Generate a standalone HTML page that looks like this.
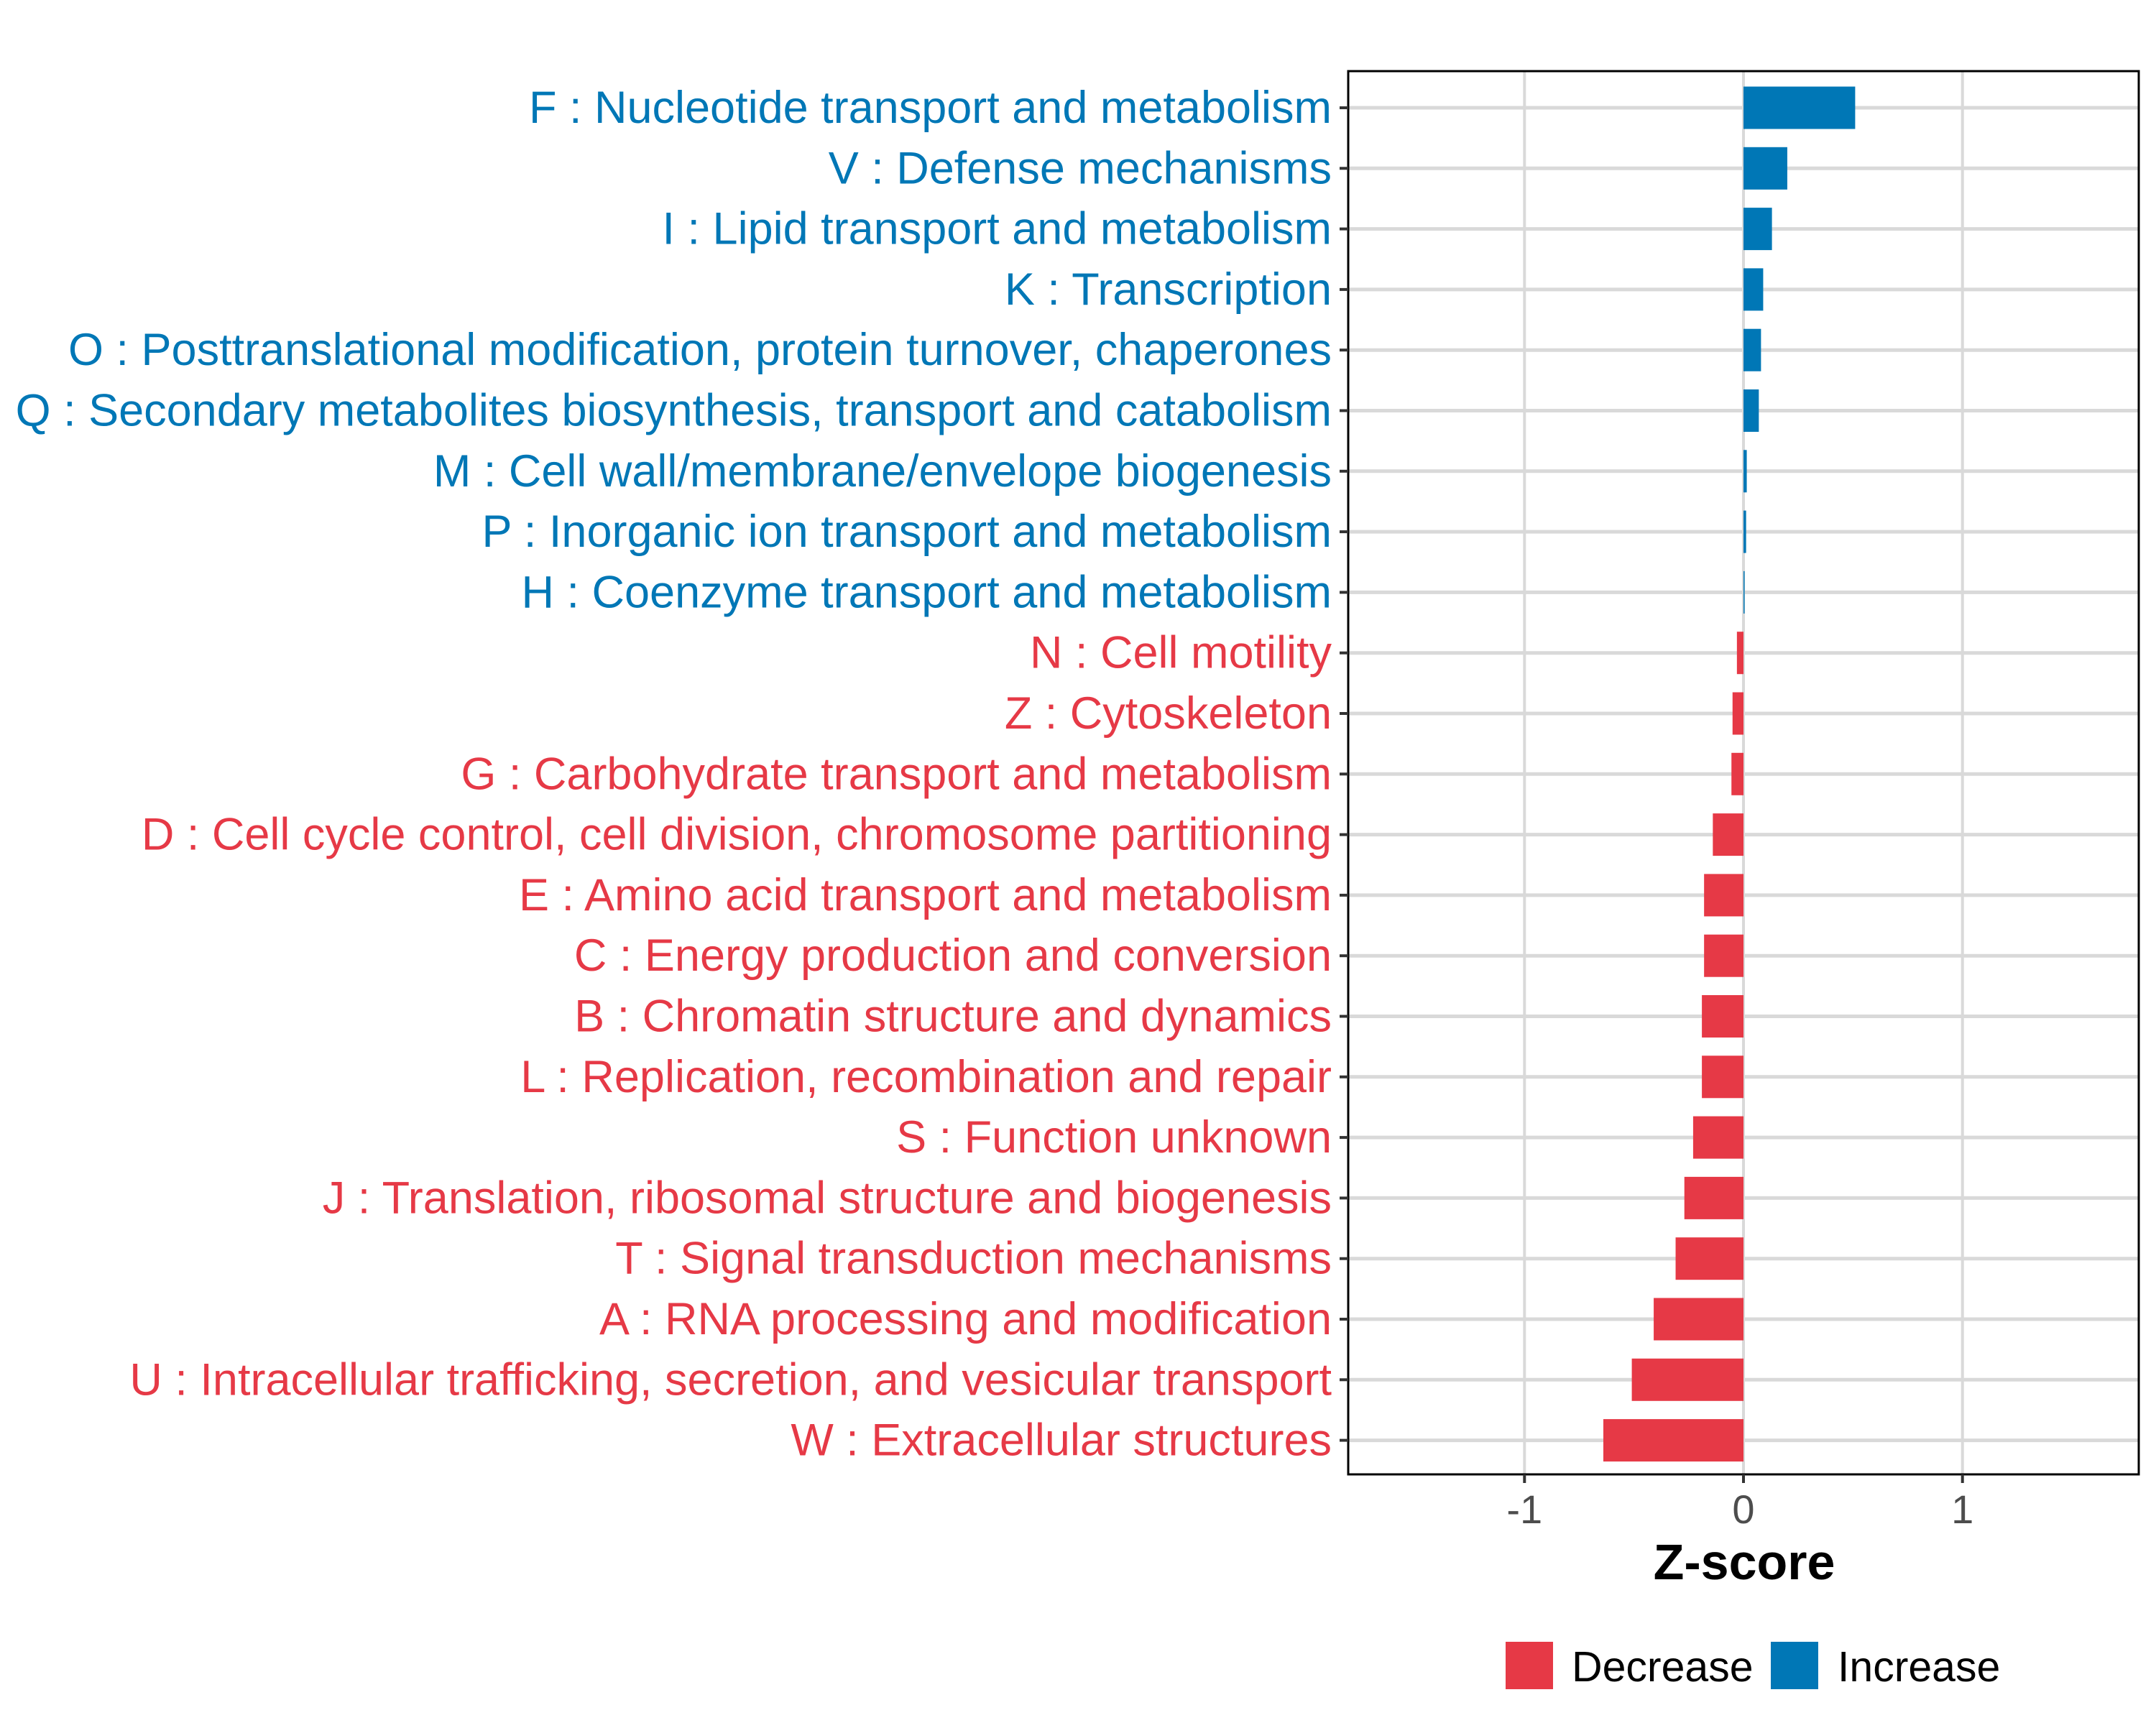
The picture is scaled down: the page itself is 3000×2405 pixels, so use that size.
<!DOCTYPE html>
<html><head><meta charset="utf-8"><style>
html,body{margin:0;padding:0;background:#fff;}
svg text{font-family:"Liberation Sans",Arial,sans-serif;}
</style></head><body>
<svg id="chart" width="3000" height="2400" viewBox="0 0 3000 2400" xmlns="http://www.w3.org/2000/svg">
<rect width="3000" height="2400" fill="#fff"/>
<g id="grid"></g>
<g id="bars"></g>
<rect x="1876" y="99" width="1100" height="1953" fill="none" stroke="#000" stroke-width="3"/>
<g id="ylabels"></g>
<g id="xticks"></g>
<text x="2427" y="2198" font-size="70" font-weight="bold" text-anchor="middle" fill="#000">Z-score</text>
<g>
<rect x="2095" y="2285" width="66" height="66" fill="#E63946"/>
<text x="2187" y="2340" font-size="59" fill="#000">Decrease</text>
<rect x="2464" y="2285" width="66" height="66" fill="#0077B6"/>
<text x="2557" y="2340" font-size="59" fill="#000">Increase</text>
</g>
</svg>
<script>
const categories = [
"F : Nucleotide transport and metabolism",
"V : Defense mechanisms",
"I : Lipid transport and metabolism",
"K : Transcription",
"O : Posttranslational modification, protein turnover, chaperones",
"Q : Secondary metabolites biosynthesis, transport and catabolism",
"M : Cell wall/membrane/envelope biogenesis",
"P : Inorganic ion transport and metabolism",
"H : Coenzyme transport and metabolism",
"N : Cell motility",
"Z : Cytoskeleton",
"G : Carbohydrate transport and metabolism",
"D : Cell cycle control, cell division, chromosome partitioning",
"E : Amino acid transport and metabolism",
"C : Energy production and conversion",
"B : Chromatin structure and dynamics",
"L : Replication, recombination and repair",
"S : Function unknown",
"J : Translation, ribosomal structure and biogenesis",
"T : Signal transduction mechanisms",
"A : RNA processing and modification",
"U : Intracellular trafficking, secretion, and vesicular transport",
"W : Extracellular structures"
];
const zscores = [0.51,0.2,0.13,0.09,0.08,0.07,0.015,0.012,0.005,-0.03,-0.05,-0.055,-0.14,-0.18,-0.18,-0.19,-0.19,-0.23,-0.27,-0.31,-0.41,-0.51,-0.64];
const xTicks = [-1,0,1];
const xTickLabels = ["-1","0","1"];

const NS="http://www.w3.org/2000/svg";
const X0=1876, X1=2976, XMIN=-1.805, XMAX=1.805;
const xs=v=>X0+(v-XMIN)/(XMAX-XMIN)*(X1-X0);
const ROW0=150, STEP=84.3;
const ys=i=>ROW0+i*STEP;
function mk(tag,attrs,parent){const e=document.createElementNS(NS,tag);for(const k in attrs)e.setAttribute(k,attrs[k]);parent.appendChild(e);return e;}
const grid=document.getElementById('grid'), bars=document.getElementById('bars'), yl=document.getElementById('ylabels'), xt=document.getElementById('xticks');
xTicks.forEach((t,i)=>{
  const g=mk('line',{x1:xs(t),x2:xs(t),y1:99,y2:2052,stroke:'#d9d9d9','stroke-width':4},grid);
  
  
  const tk=mk('line',{x1:xs(t),x2:xs(t),y1:2052,y2:2064,stroke:'#333','stroke-width':4},xt);
  
  
  const tl=mk('text',{x:xs(t),y:2120,'font-size':56,'text-anchor':'middle',fill:'#4d4d4d'},xt);
  tl.textContent=xTickLabels[i];
  
  
});
categories.forEach((c,i)=>{
  const y=ys(i), v=zscores[i], col=v>=0?'#0077B6':'#E63946';
  const gl=mk('line',{x1:X0,x2:X1,y1:y,y2:y,stroke:'#d9d9d9','stroke-width':5},grid);
  
  
  const b=mk('rect',{x:Math.min(xs(0),xs(v)),y:y-29.5,width:Math.abs(xs(v)-xs(0)),height:59,fill:col},bars);
  
  
  const tk=mk('line',{x1:1864,x2:1876,y1:y,y2:y,stroke:'#333','stroke-width':4},yl);
  
  
  const t=mk('text',{x:1853,y:y+21,'font-size':63,'text-anchor':'end',fill:col},yl);
  t.textContent=c;
  
  
});
</script>
</body></html>
